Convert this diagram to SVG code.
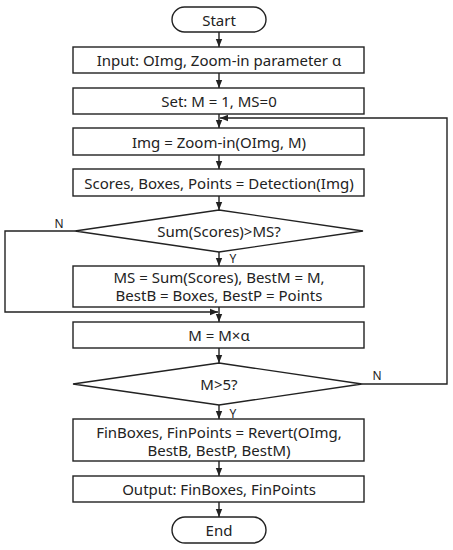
<svg xmlns="http://www.w3.org/2000/svg" width="453" height="550" viewBox="0 0 453 550">
<style>
.n{fill:#fff;stroke:#222;stroke-width:1.4}
.t{font-family:"Noto Sans","DejaVu Sans",sans-serif;font-size:15px;fill:#222;text-anchor:middle;dominant-baseline:central}
.l{font-family:"Noto Sans","DejaVu Sans",sans-serif;font-size:12px;fill:#222;text-anchor:middle;dominant-baseline:central}
.c{fill:none;stroke:#222;stroke-width:1.4}
</style>
<defs>
<marker id="a" markerUnits="userSpaceOnUse" markerWidth="8" markerHeight="8" viewBox="0 0 8 8" refX="8" refY="4" orient="auto">
<path d="M0,0.8 L8,4 L0,7.2 Z" fill="#222"/>
</marker>
</defs>
<rect width="453" height="550" fill="#fff"/>
<g id="connectors">
<path class="c" d="M219,32 V47" marker-end="url(#a)"/>
<path class="c" d="M219,73 V88" marker-end="url(#a)"/>
<path class="c" d="M219,114 V128" marker-end="url(#a)"/>
<path class="c" d="M362,384 H447 V118 H220" marker-end="url(#a)"/>
<path class="c" d="M219,155 V169" marker-end="url(#a)"/>
<path class="c" d="M219,196 V210" marker-end="url(#a)"/>
<path class="c" d="M219,252 V266" marker-end="url(#a)"/>
<path class="c" d="M75,231 H5 V312 H218" marker-end="url(#a)"/>
<path class="c" d="M219,307 V322" marker-end="url(#a)"/>
<path class="c" d="M219,348 V363" marker-end="url(#a)"/>
<path class="c" d="M219,405 V419" marker-end="url(#a)"/>
<path class="c" d="M219,461 V476" marker-end="url(#a)"/>
<path class="c" d="M219,502 V517" marker-end="url(#a)"/>
<text class="l" x="59" y="223">N</text>
<text class="l" x="233" y="258">Y</text>
<text class="l" x="377" y="375">N</text>
<text class="l" x="233" y="413">Y</text>
</g>
<g id="start"><rect class="n" x="172" y="7" width="94" height="25" rx="12.5"/><text class="t" x="219" y="19.5">Start</text></g>
<g id="input"><rect class="n" x="73" y="47" width="291" height="26"/><text class="t" x="219" y="60">Input: OImg, Zoom-in parameter α</text></g>
<g id="set"><rect class="n" x="73" y="88" width="291" height="26"/><text class="t" x="219" y="101">Set: M = 1, MS=0</text></g>
<g id="zoom"><rect class="n" x="73" y="128" width="291" height="27"/><text class="t" x="219" y="141.5">Img = Zoom-in(OImg, M)</text></g>
<g id="detect"><rect class="n" x="73" y="169" width="291" height="27"/><text class="t" x="219" y="182.5">Scores, Boxes, Points = Detection(Img)</text></g>
<g id="dec1"><path class="n" d="M219,210 L363,231 L219,252 L75,231 Z"/><text class="t" x="219" y="231">Sum(Scores)&gt;MS?</text></g>
<g id="update"><rect class="n" x="73" y="266" width="291" height="41"/><text class="t" x="219" y="277">MS = Sum(Scores), BestM = M,</text><text class="t" x="219" y="295">BestB = Boxes, BestP = Points</text></g>
<g id="mult"><rect class="n" x="73" y="322" width="291" height="26"/><text class="t" x="219" y="335">M = M×α</text></g>
<g id="dec2"><path class="n" d="M219,363 L362,384 L219,405 L73,384 Z"/><text class="t" x="219" y="384">M&gt;5?</text></g>
<g id="revert"><rect class="n" x="73" y="419" width="291" height="42"/><text class="t" x="219" y="432">FinBoxes, FinPoints = Revert(OImg,</text><text class="t" x="219" y="450">BestB, BestP, BestM)</text></g>
<g id="output"><rect class="n" x="73" y="476" width="291" height="26"/><text class="t" x="219" y="489">Output: FinBoxes, FinPoints</text></g>
<g id="end"><rect class="n" x="172" y="517" width="94" height="26" rx="13"/><text class="t" x="219" y="530">End</text></g>
</svg>
